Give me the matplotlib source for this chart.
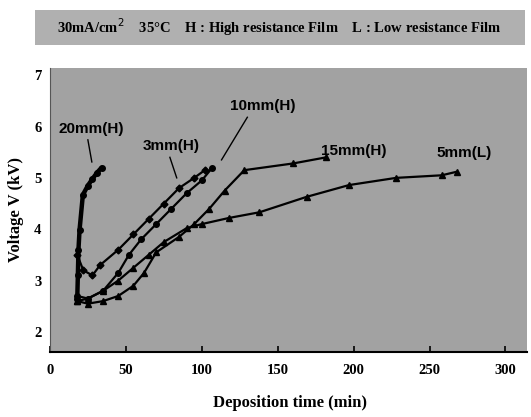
import matplotlib
matplotlib.use("Agg")
import matplotlib.pyplot as plt
from matplotlib.patches import Rectangle

# deposition time (min) and voltage (kV)
t_20mm = [18, 18.4, 18.8, 19.5, 21.7, 25, 28, 31, 34]
v_20mm = [2.65, 3.1, 3.6, 3.98, 4.67, 4.85, 4.98, 5.1, 5.2]

t_3mm = [18, 22, 28, 33, 45, 55, 65, 75, 85, 95, 102]
v_3mm = [3.5, 3.2, 3.1, 3.3, 3.6, 3.9, 4.2, 4.5, 4.8, 5.0, 5.15]

t_10mm = [18, 25, 35, 45, 52, 60, 70, 80, 90, 100, 107]
v_10mm = [2.7, 2.65, 2.8, 3.15, 3.5, 3.8, 4.1, 4.4, 4.7, 4.95, 5.2]

t_15mm = [18, 25, 35, 45, 55, 62, 70, 85, 95, 105, 115, 128, 160, 182]
v_15mm = [2.6, 2.55, 2.6, 2.7, 2.9, 3.15, 3.55, 3.85, 4.1, 4.4, 4.75, 5.15, 5.28, 5.4]

t_5mm = [18, 25, 35, 45, 55, 65, 75, 90, 100, 118, 138, 169, 197, 228, 258, 268]
v_5mm = [2.6, 2.65, 2.8, 3.0, 3.25, 3.5, 3.75, 4.02, 4.1, 4.22, 4.33, 4.63, 4.86, 5.0, 5.05, 5.12]

x_ticks = [0, 50, 100, 150, 200, 250, 300]
y_ticks = [2, 3, 4, 5, 6, 7]

header = "30mA/cm$^2$    35\u00b0C    H : High resistance Film    L : Low resistance Film"

serif = ['Liberation Serif', 'DejaVu Serif']
sans = ['Liberation Sans', 'DejaVu Sans']

fig = plt.figure(figsize=(5.31, 4.17), dpi=100)
ax = fig.add_axes([0.094, 0.156, 0.898, 0.681])
ax.set_facecolor('#a2a2a2')

ax.plot(t_20mm, v_20mm, color='black', lw=3.2, marker='o', ms=4, solid_capstyle='round')
ax.plot(t_3mm, v_3mm, color='black', lw=1.6, marker='D', ms=3.5)
ax.plot(t_10mm, v_10mm, color='black', lw=1.6, marker='o', ms=4)
ax.plot(t_15mm, v_15mm, color='black', lw=1.6, marker='^', ms=4.5)
ax.plot(t_5mm, v_5mm, color='black', lw=1.6, marker='^', ms=4.5)

# series labels with leader lines
ax.text(27.5, 5.95, "20mm(H)", family=sans, fontsize=11, fontweight='bold', ha='center', va='center')
ax.plot([25, 27.6], [5.74, 5.31], color='black', lw=1)
ax.text(80, 5.62, "3mm(H)", family=sans, fontsize=11, fontweight='bold', ha='center', va='center')
ax.plot([79, 83.5], [5.4, 5.0], color='black', lw=1)
ax.text(140, 6.4, "10mm(H)", family=sans, fontsize=11, fontweight='bold', ha='center', va='center')
ax.plot([130, 113], [6.18, 5.35], color='black', lw=1)
ax.text(200, 5.52, "15mm(H)", family=sans, fontsize=11, fontweight='bold', ha='center', va='center')
ax.text(273, 5.48, "5mm(L)", family=sans, fontsize=11, fontweight='bold', ha='center', va='center')

ax.set_xlim(0, 314)
ax.set_ylim(1.61, 7.14)
ax.set_xticks(x_ticks)
ax.set_yticks(y_ticks)
ax.tick_params(axis='x', direction='in', length=4, width=1.2, pad=9)
ax.tick_params(axis='y', length=0, pad=6)
for lab in ax.get_xticklabels() + ax.get_yticklabels():
    lab.set_family(serif)
    lab.set_fontweight('bold')
    lab.set_fontsize(10.5)

for side in ['top', 'right']:
    ax.spines[side].set_visible(False)
ax.spines['left'].set_color('#555555')
ax.spines['bottom'].set_linewidth(1.5)

ax.set_xlabel("Deposition time (min)", family=serif, fontsize=12, fontweight='bold')
ax.set_ylabel("Voltage V (kV)", family=serif, fontsize=12, fontweight='bold')
ax.xaxis.set_label_coords(0.503, -0.152)
ax.yaxis.set_label_coords(-0.054, 0.5)

# grey band behind the header line
fig.patches.append(Rectangle((0.066, 0.892), 0.923, 0.084, transform=fig.transFigure,
                             facecolor='#b0b0b0', edgecolor='none'))
fig.text(0.526, 0.934, header, family=serif, fontsize=10.5, fontweight='bold', ha='center', va='center')

fig.savefig("out.png", dpi=100)
